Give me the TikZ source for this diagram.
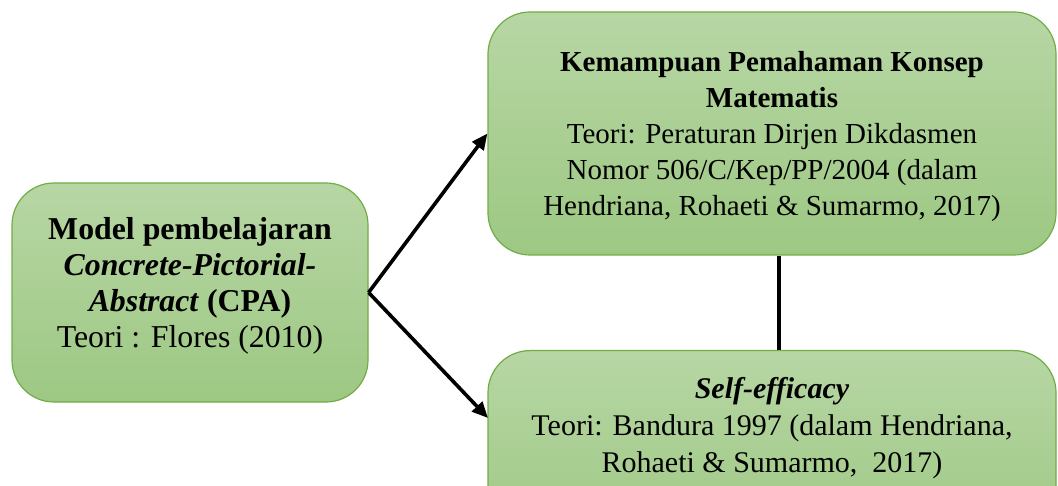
\documentclass[tikz,border=0pt]{standalone}
\usepackage{fontspec}
\setmainfont{Liberation Serif}
\usetikzlibrary{arrows.meta,calc}
\definecolor{gtop}{RGB}{183,214,164}
\definecolor{gbot}{RGB}{157,200,131}
\definecolor{gborder}{RGB}{112,173,71}
\begin{document}
\begin{tikzpicture}[x=1pt,y=-1pt,
  box/.style={draw=gborder, line width=1.2pt, rounded corners=42pt,
    top color=gtop, bottom color=gbot, inner sep=0pt},
  txt/.style={align=center, inner sep=0pt, font=\fontsize{29}{36}\selectfont},
  conn/.style={line width=3.6pt, -{Triangle[length=16pt,width=14pt]}},
  link/.style={line width=3.6pt}]
\useasboundingbox (0,0) rectangle (1058,486);
\clip (0,0) rectangle (1058,486);
\node[box, minimum width=356pt, minimum height=219pt] (cpa) at (190,292.5) {};
\node[txt, font=\fontsize{31.8}{36}\selectfont] (cpatext) at (190,286)
  {\textbf{Model pembelajaran}\\ \textbf{\textit{Concrete-Pictorial-}}\\
   \textbf{\textit{Abstract} (CPA)}\\ Teori : Flores (2010)};
\node[box, minimum width=568pt, minimum height=243pt] (kpk) at (772,133.5) {};
\node[txt] (kpktext) at (772,136.5)
  {\textbf{Kemampuan Pemahaman Konsep}\\ \textbf{Matematis}\\
   Teori: Peraturan Dirjen Dikdasmen\\ Nomor 506/C/Kep/PP/2004 (dalam\\
   Hendriana, Rohaeti \& Sumarmo, 2017)};
\node[box, minimum width=568pt, minimum height=200pt, anchor=north] (se) at (772,350) {};
\node[txt, font=\fontsize{30}{37}\selectfont] (setext) at (772,428)
  {\textbf{\textit{Self-efficacy}}\\ Teori: Bandura 1997 (dalam Hendriana,\\
   Rohaeti \& Sumarmo,\ \ 2017)};
\coordinate (v) at (779,0);
\coordinate (sein) at (488,418);
\draw[conn] (cpa.east) -- (kpk.west);
\draw[conn] (cpa.east) -- (sein);
\draw[link] (kpk.south -| v) -- (se.north -| v);
\end{tikzpicture}
\end{document}
